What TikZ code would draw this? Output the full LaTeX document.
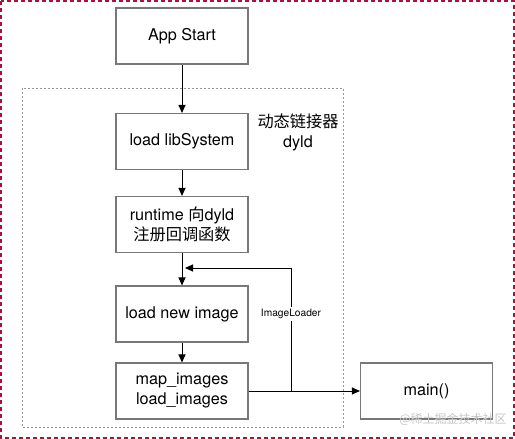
\documentclass[tikz,border=0pt]{standalone}
\usepackage{fontspec}
\setmainfont{TeX Gyre Heros}
\newfontfamily\cjk{Noto Sans CJK SC}
\usetikzlibrary{arrows.meta}
\definecolor{framered}{RGB}{165,20,60}
\definecolor{boxgray}{RGB}{120,120,120}
\tikzset{
procbox/.style={
	  draw=boxgray, line width=1.1pt, minimum width=132pt,
	    minimum height=56pt, align=center, font=\fontsize{16.2}{20}\selectfont},
flow/.style={line width=1pt, -{Triangle[length=8pt,width=7pt]}}
}

\begin{document}
\begin{tikzpicture}[x=1pt, y=-1pt]
	\useasboundingbox (0,0) rectangle (515,439);
	\draw[framered, line width=1.2pt, dash pattern=on 4pt off 3pt] (1,1) rectangle (514,438);
	\draw[gray!80, line width=0.8pt, dash pattern=on 2pt off 2pt] (22,88) rectangle (343,427);
	\node[procbox] (appstart) at (182,36) {App Start};
	\node[procbox] (libsys) at (182,141.5) {load libSystem};
	\node[procbox] (runtime) at (182,224.5) {runtime {\cjk 向}dyld\\{\cjk 注册回调函数}};
	\node[procbox] (newimage) at (182,314) {load new image};
	\node[procbox] (mapimages) at (182,391) {map\_images\\load\_images};
	\node[procbox] (mainfn) at (426.5,391) {main()};
	\node[align=center, font=\fontsize{16.2}{20}\selectfont] (dyld) at (298,132) {{\cjk 动态链接器}\\dyld};
	\coordinate (split) at (291,391);
	\coordinate (loopend) at (185,268);
	\draw[flow] (appstart) -- (libsys);
	\draw[flow] (libsys) -- (runtime);
	\draw[flow] (runtime) -- (newimage);
	\draw[flow] (newimage) -- (mapimages);
	\draw[flow] (mapimages) -- (mainfn);
	\draw[flow] (split) -- (split |- loopend) -- (loopend);
	\node[fill=white, inner sep=2pt, font=\fontsize{10.2}{12}\selectfont] (loader) at (291,314) {ImageLoader};
	\node[text=gray!45, font=\cjk\fontsize{12}{14}\selectfont] (mark) at (453,419) {@稀土掘金技术社区};
\end{tikzpicture}
\end{document}
